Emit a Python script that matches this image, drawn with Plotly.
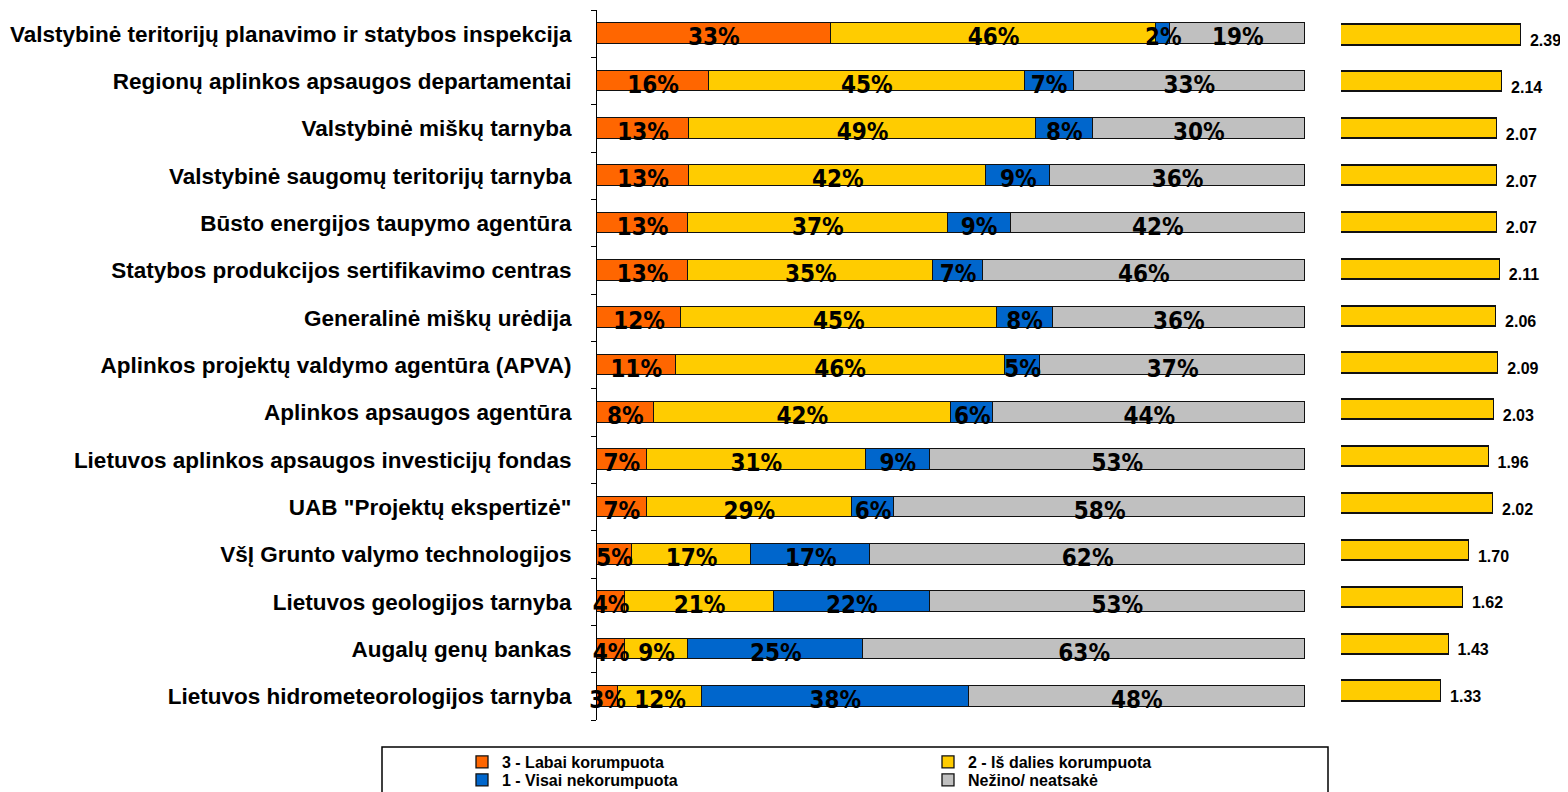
import pandas as pd
import plotly.graph_objects as go

# the page body keeps an 8px margin, so the figure is a little smaller
# and all page-pixel positions are shifted by that offset
OFF = 8
W, H = 1568 - OFF, 792 - OFF

CATEGORIES = [
    "Valstybinė teritorijų planavimo ir statybos inspekcija",
    "Regionų aplinkos apsaugos departamentai",
    "Valstybinė miškų tarnyba",
    "Valstybinė saugomų teritorijų tarnyba",
    "Būsto energijos taupymo agentūra",
    "Statybos produkcijos sertifikavimo centras",
    "Generalinė miškų urėdija",
    "Aplinkos projektų valdymo agentūra (APVA)",
    "Aplinkos apsaugos agentūra",
    "Lietuvos aplinkos apsaugos investicijų fondas",
    "UAB \"Projektų ekspertizė\"",
    "VšĮ Grunto valymo technologijos",
    "Lietuvos geologijos tarnyba",
    "Augalų genų bankas",
    "Lietuvos hidrometeorologijos tarnyba",
]

VERY_CORRUPT = [33, 16, 13, 13, 13, 13, 12, 11, 8, 7, 7, 5, 4, 4, 3]
PARTLY_CORRUPT = [46, 45, 49, 42, 37, 35, 45, 46, 42, 31, 29, 17, 21, 9, 12]
NOT_CORRUPT = [2, 7, 8, 9, 9, 7, 8, 5, 6, 9, 6, 17, 22, 25, 38]
DONT_KNOW = [19, 33, 30, 36, 42, 46, 36, 37, 44, 53, 58, 62, 53, 63, 48]

AVG_SCORE = [2.39, 2.14, 2.07, 2.07, 2.07, 2.11, 2.06, 2.09, 2.03, 1.96, 2.02, 1.70, 1.62, 1.43, 1.33]

SERIES = [
    ("3 - Labai korumpuota", VERY_CORRUPT, "#FF6600"),
    ("2 - Iš dalies korumpuota", PARTLY_CORRUPT, "#FFCC00"),
    ("1 - Visai nekorumpuota", NOT_CORRUPT, "#0066CC"),
    ("Nežino/ neatsakė", DONT_KNOW, "#C0C0C0"),
]

# one legend per entry so the 2x2 box can be laid out like the original
# (page pixels: left x of legend, top y of legend)
LEGEND_SPOTS = [(462, 745), (928, 745), (462, 763), (928, 763)]

NARROW = "Liberation Sans Narrow, Arial Narrow, DejaVu Sans Condensed, Arial, sans-serif"
ARIAL = "Arial, Liberation Sans, sans-serif"


def px_x(p):
    return (p - OFF) / W


def px_y(p):
    return 1 - (p - OFF) / H


df = pd.DataFrame({name: vals for name, vals, _ in SERIES})
norm = df.div(df.sum(axis=1), axis=0) * 100
ypos = list(range(len(CATEGORIES)))

fig = go.Figure()

legend_names = ["legend", "legend2", "legend3", "legend4"]

# stacked 100% bars
for (name, vals, color), leg in zip(SERIES, legend_names):
    fig.add_trace(go.Bar(
        name=name,
        x=norm[name],
        y=ypos,
        orientation="h",
        width=0.43,
        marker=dict(color=color, line=dict(color="#111111", width=1.3)),
        legend=leg,
        hoverinfo="skip",
    ))

# segment labels, centred on each segment, a little low like the original
cum = norm.cumsum(axis=1)
for name, vals, _ in SERIES:
    mid = cum[name] - norm[name] / 2
    fig.add_trace(go.Scatter(
        x=mid,
        y=[i + 0.12 for i in ypos],
        mode="text",
        text=[f"{v}%" for v in vals],
        textposition="middle center",
        textfont=dict(family=NARROW, size=24, color="black", weight="bold"),
        showlegend=False,
        hoverinfo="skip",
        cliponaxis=False,
    ))

# average score bars on the right
fig.add_trace(go.Bar(
    x=AVG_SCORE,
    y=ypos,
    orientation="h",
    width=0.43,
    xaxis="x2",
    yaxis="y2",
    marker=dict(color="#FFCC00", line=dict(color="#111111", width=1.5)),
    showlegend=False,
    hoverinfo="skip",
))
fig.add_trace(go.Scatter(
    x=AVG_SCORE,
    y=[i + 0.15 for i in ypos],
    xaxis="x2",
    yaxis="y2",
    mode="text",
    text=["\u00a0\u00a0" + f"{v:.2f}" for v in AVG_SCORE],
    textposition="middle right",
    textfont=dict(family=ARIAL, size=16, color="black", weight="bold"),
    showlegend=False,
    hoverinfo="skip",
    cliponaxis=False,
))

legend_font = dict(family=ARIAL, size=16, color="black", weight="bold")
legends = {}
for leg, (lx, ly) in zip(legend_names, LEGEND_SPOTS):
    legends[leg] = dict(
        x=px_x(lx),
        xanchor="left",
        y=px_y(ly),
        yanchor="top",
        maxheight=300,
        bgcolor="rgba(0,0,0,0)",
        borderwidth=0,
        font=legend_font,
    )

fig.update_layout(
    width=W,
    height=H,
    margin=dict(l=0, r=0, t=0, b=0, autoexpand=False),
    paper_bgcolor="white",
    plot_bgcolor="white",
    barmode="stack",
    bargap=0,
    xaxis=dict(
        domain=[px_x(597), px_x(1305)],
        range=[0, 100],
        visible=False,
        automargin=False,
    ),
    yaxis=dict(
        domain=[px_y(720), px_y(10)],
        range=[14.5, -0.5],
        tickmode="array",
        tickvals=ypos,
        ticktext=CATEGORIES,
        ticks="",
        ticklabelstandoff=20,
        showline=True,
        linecolor="black",
        linewidth=1,
        showgrid=False,
        zeroline=False,
        automargin=False,
        tickfont=dict(family=ARIAL, size=22.5, color="black", weight="bold"),
        minor=dict(
            tickmode="array",
            tickvals=[i - 0.5 for i in range(len(CATEGORIES) + 1)],
            ticks="outside",
            ticklen=5,
            tickcolor="black",
            tickwidth=1,
            showgrid=False,
        ),
    ),
    xaxis2=dict(
        domain=[px_x(1341), 1.0],
        range=[0, (1568 - 1341) / (1521 - 1341) * 2.39],
        visible=False,
        anchor="y2",
        automargin=False,
    ),
    yaxis2=dict(
        domain=[px_y(714.5), px_y(11.6)],
        range=[14.5, -0.5],
        visible=False,
        anchor="x2",
        automargin=False,
    ),
    showlegend=True,
    **legends,
)

# legend frame
fig.add_shape(
    type="rect",
    xref="paper",
    yref="paper",
    x0=px_x(382),
    x1=px_x(1328),
    y0=px_y(800),
    y1=px_y(747),
    line=dict(color="black", width=1.5),
    fillcolor="rgba(0,0,0,0)",
)

fig.write_html("out.html")
